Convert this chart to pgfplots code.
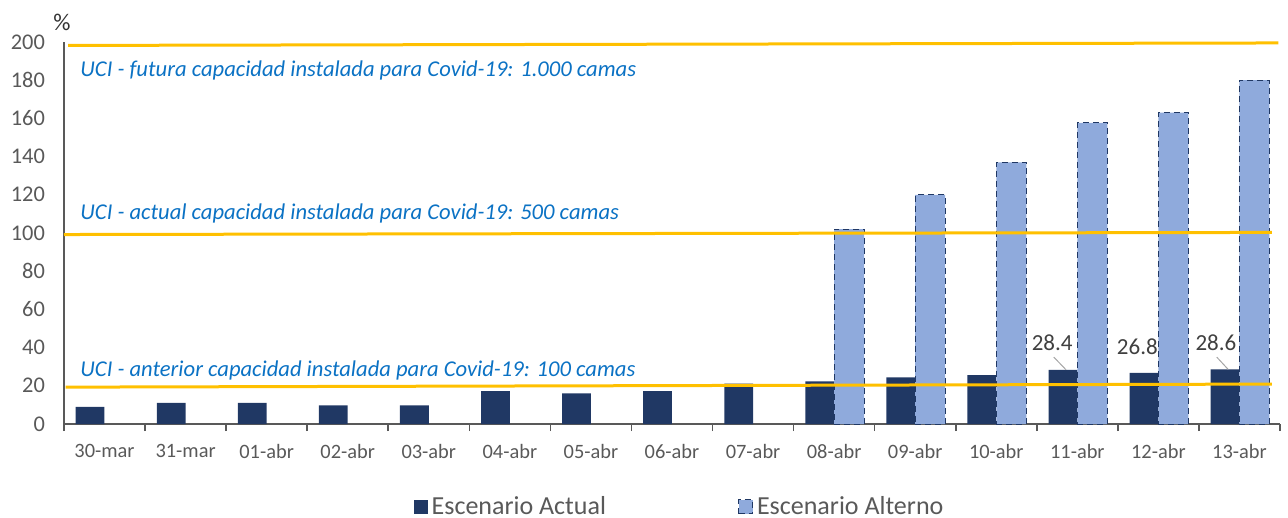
\documentclass[border=0pt]{standalone}
\usepackage{fontspec}
\setmainfont{Carlito}
\usepackage{pgfplots}
\pgfplotsset{compat=1.18}
\definecolor{navy}{HTML}{203864}
\definecolor{lightb}{HTML}{8FAADC}
\definecolor{gold}{HTML}{FFC000}
\definecolor{annblue}{HTML}{0B72C4}
\definecolor{textgray}{HTML}{595959}
\definecolor{axisgray}{HTML}{595959}
\begin{document}
\begin{tikzpicture}
\path[use as bounding box] (-32pt,-47pt) rectangle (612pt,212pt);
\begin{axis}[
  at={(0pt,0pt)}, anchor=south west, scale only axis,
  width=608pt, height=191pt,
  xmin=-0.5, xmax=14.5, ymin=0, ymax=200,
  axis x line=bottom, axis y line=left,
  axis line style={draw=axisgray, line width=0.8pt, -},
  xtick={0,...,14},
  xticklabels={30-mar,31-mar,01-abr,02-abr,03-abr,04-abr,05-abr,06-abr,07-abr,08-abr,09-abr,10-abr,11-abr,12-abr,13-abr},
  minor xtick={-0.5,0.5,...,14.5},
  major tick length=0pt, minor tick length=3.5pt, tick align=outside,
  minor tick style={draw=axisgray, line width=0.8pt},
  ytick={0,20,...,200},
  /pgf/number format/assume math mode=true,
  x tick label style={font=\fontsize{10.2}{12}\selectfont, text=textgray, yshift=-6.5pt},
  y tick label style={font=\fontsize{11.2}{13}\selectfont, text=textgray, xshift=-6pt},
  legend style={at={(0.507,-0.217)}, anchor=center, draw=none, legend columns=2,
    font=\fontsize{13}{15}\selectfont, text=textgray,
    /tikz/every even column/.append style={column sep=64pt}},
  clip=false,
]
\addplot[ybar, bar width=0.355, bar shift=-0.178, fill=navy, draw=none,
  legend image code/.code={\fill[navy] (0pt,-3.5pt) rectangle (7pt,3.5pt);}]
  coordinates {(0,9.0)(1,11.0)(2,11.0)(3,9.8)(4,9.8)(5,17.2)(6,16.0)(7,17.2)(8,21.2)(9,22.3)(10,24.4)(11,25.6)(12,28.4)(13,26.8)(14,28.6)};
\addlegendentry{Escenario Actual}
\addplot[ybar, bar width=0.37, bar shift=0.185, fill=lightb, draw=navy, densely dashed, line width=0.5pt,
  legend image code/.code={\draw[fill=lightb, draw=navy, densely dashed, line width=0.5pt] (0pt,-3.5pt) rectangle (7pt,3.5pt);}]
  coordinates {(9,102)(10,120)(11,137)(12,157.7)(13,163)(14,180)};
\addlegendentry{Escenario Alterno}
\addplot[gold, line width=1.5pt, forget plot] coordinates {(-0.45,198.2)(14.48,199.5)};
\addplot[gold, line width=1.5pt, forget plot] coordinates {(-0.5,99.2)(14.4,100.3)};
\addplot[gold, line width=1.5pt, forget plot] coordinates {(-0.48,19.3)(14.4,20.9)};
\node[font=\fontsize{11.3}{13}\selectfont\itshape, text=annblue, anchor=west, inner sep=0pt] at (axis cs:-0.302,184.9) {UCI - futura capacidad instalada para Covid-19: 1.000 camas};
\node[font=\fontsize{11.3}{13}\selectfont\itshape, text=annblue, anchor=west, inner sep=0pt] at (axis cs:-0.302,110.2) {UCI - actual capacidad instalada para Covid-19: 500 camas};
\node[font=\fontsize{11.3}{13}\selectfont\itshape, text=annblue, anchor=west, inner sep=0pt] at (axis cs:-0.302,28.2) {UCI - anterior capacidad instalada para Covid-19: 100 camas};
\node[font=\fontsize{11.5}{13}\selectfont, text=black!75] at (axis cs:11.69,42.6) {28.4};
\node[font=\fontsize{11.5}{13}\selectfont, text=black!75] at (axis cs:12.74,40.7) {26.8};
\node[font=\fontsize{11.5}{13}\selectfont, text=black!75] at (axis cs:13.71,42.6) {28.6};
\draw[gray!70, line width=0.5pt] (axis cs:11.71,35.0) -- (axis cs:11.86,28.4);
\draw[gray!70, line width=0.5pt] (axis cs:13.72,35.0) -- (axis cs:13.86,28.6);
\end{axis}
\node[font=\fontsize{12}{14}\selectfont, text=black!80] at (-1pt,201pt) {\%};
\end{tikzpicture}
\end{document}
